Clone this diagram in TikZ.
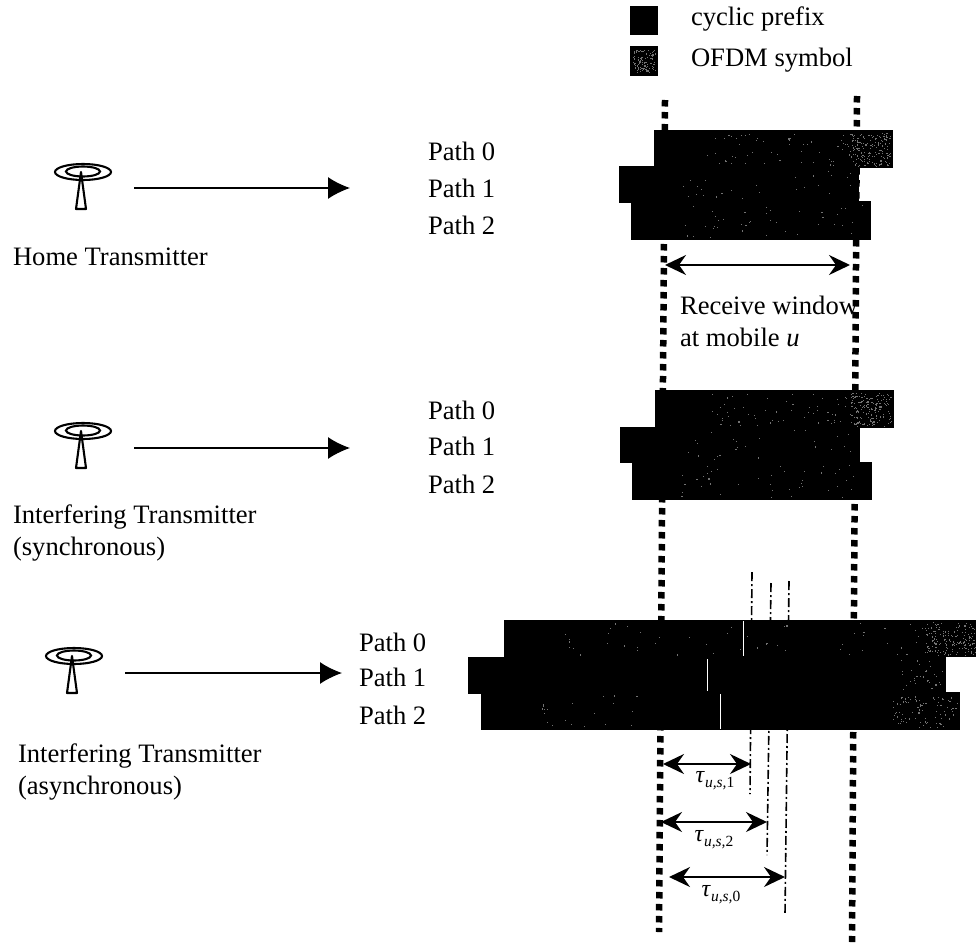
\documentclass[tikz,border=0pt]{standalone}
\usepackage{fontspec}
\setmainfont{Liberation Serif}
\usetikzlibrary{arrows.meta}
\newcommand{\specks}[6][black!55]{%
  \foreach \i in {1,...,#6}{%
    \pgfmathsetmacro{\sx}{#2+rnd*(#4-#2)}%
    \pgfmathsetmacro{\sy}{#3+rnd*(#5-#3)}%
    \fill[#1] (\sx,\sy) rectangle ++(1.1,1.1);
  }}
\newcommand{\antenna}[2]{%
  \draw[antline] (#1+2,#2) ellipse [x radius=28,y radius=8];
  \draw[antline] (#1+2,#2-0.5) ellipse [x radius=17,y radius=5];
  \draw[antline,fill=white,line join=round] (#1,#2) -- (#1-5,#2+37) -- (#1+5,#2+37) -- cycle;
}
\newcommand{\taulbl}[1]{\textit{τ}\raisebox{-5pt}{\fontsize{15.5}{18}\selectfont\textit{u,s,}#1}}
\tikzset{
  x=1pt,y=-1pt,
  every node/.style={font=\fontsize{26.6}{32}\selectfont,inner sep=0pt,outer sep=0pt},
  lbl/.style={anchor=west,align=left},
  antline/.style={line width=2.1pt,black},
  bar/.style={fill=black,draw=none},
  window/.style={line width=6.5pt,dash pattern=on 6.5pt off 5.5pt,black},
  delay/.style={line width=1.6pt,dash pattern=on 9pt off 3pt on 2pt off 3pt,black},
  txarrow/.style={line width=1.4pt,-{Latex[length=22pt,width=22pt]}},
  span/.style={line width=1.8pt,{Stealth[length=21pt,width=20pt,inset=7pt]}-{Stealth[length=21pt,width=20pt,inset=7pt]}},
  taulabel/.style={font=\fontsize{24}{26}\selectfont}
}
\begin{document}
\begin{tikzpicture}
\useasboundingbox (0,0) rectangle (976,942);
\pgfmathsetseed{4242}
% legend
\node[bar,minimum width=28pt,minimum height=29pt] (lcp) at (644,20.5) {};
\node[bar,minimum width=28pt,minimum height=29pt] (lsym) at (644,61) {};
\specks{633}{50}{655}{72}{110}
\node[lbl] (tcp) at (691,19) {cyclic prefix};
\node[lbl] (tsym) at (691,60) {OFDM symbol};
% window boundaries
\coordinate (wl1) at (665,100);
\coordinate (wl2) at (659,932);
\coordinate (wr1) at (857,96);
\coordinate (wr2) at (852,942);
\draw[window] (wl1) -- (wl2);
\draw[window] (wr1) -- (wr2);
% delay markers
\coordinate (d1a) at (752,572); \coordinate (d1b) at (750,794);
\coordinate (d2a) at (771,583); \coordinate (d2b) at (767,855);
\coordinate (d3a) at (789,581); \coordinate (d3b) at (785,914);
\draw[delay] (d1a) -- (d1b);
\draw[delay] (d2a) -- (d2b);
\draw[delay] (d3a) -- (d3b);
% home block
\fill[bar] (654,130) rectangle (893,168);
\fill[bar] (619,166) rectangle (859,203);
\fill[bar] (631,201) rectangle (871,240);
\specks{850}{133}{890}{166}{170}
\specks{705}{133}{850}{165}{55}
\specks{680}{170}{856}{200}{25}
\specks{680}{205}{868}{237}{40}
% synchronous block
\fill[bar] (655,390) rectangle (894,428);
\fill[bar] (620,427) rectangle (860,463);
\fill[bar] (632,462) rectangle (872,500);
\specks{850}{393}{891}{426}{170}
\specks{705}{393}{850}{425}{55}
\specks{680}{430}{857}{460}{25}
\specks{680}{465}{869}{497}{40}
% asynchronous block
\fill[bar] (504,620) rectangle (976,657);
\fill[bar] (468,657) rectangle (946,694);
\fill[bar] (481,692) rectangle (960,730);
\specks{925}{622}{976}{655}{170}
\specks{560}{622}{925}{655}{50}
\specks{900}{660}{943}{690}{30}
\specks{890}{695}{957}{727}{90}
\specks{540}{695}{640}{727}{20}
\draw[white,line width=1pt] (743,621) -- (743,656);
\draw[white,line width=1pt] (707,659) -- (707,691);
\draw[white,line width=1pt] (720,694) -- (720,729);
% transmitters
\antenna{81}{172}
\antenna{81}{431}
\antenna{72}{656}
\coordinate (a1s) at (134,188); \coordinate (a1e) at (350,188);
\coordinate (a2s) at (134,448); \coordinate (a2e) at (350,448);
\coordinate (a3s) at (125,673); \coordinate (a3e) at (342,673);
\draw[txarrow] (a1s) -- (a1e);
\draw[txarrow] (a2s) -- (a2e);
\draw[txarrow] (a3s) -- (a3e);
\node[lbl] (home) at (13,257) {Home Transmitter};
\node[lbl] (sync) at (13,533) {Interfering Transmitter\\(synchronous)};
\node[lbl] (async) at (18,772) {Interfering Transmitter\\(asynchronous)};
% path labels
\node[lbl] (p10) at (428,151) {Path 0};
\node[lbl] (p11) at (428,188) {Path 1};
\node[lbl] (p12) at (428,225) {Path 2};
\node[lbl] (p20) at (428,410) {Path 0};
\node[lbl] (p21) at (428,446) {Path 1};
\node[lbl] (p22) at (428,484) {Path 2};
\node[lbl] (p30) at (359,642) {Path 0};
\node[lbl] (p31) at (359,677) {Path 1};
\node[lbl] (p32) at (359,715) {Path 2};
% receive window
\coordinate (rw1) at (665,265); \coordinate (rw2) at (850,265);
\draw[span] (rw1) -- (rw2);
\node[lbl] (rw) at (680,321) {Receive window\\at mobile \textit{u}};
% delays
\coordinate (t1a) at (663,764); \coordinate (t1b) at (751,764);
\coordinate (t2a) at (661,822); \coordinate (t2b) at (767,822);
\coordinate (t3a) at (669,877); \coordinate (t3b) at (785,877);
\draw[span] (t1a) -- (t1b);
\draw[span] (t2a) -- (t2b);
\draw[span] (t3a) -- (t3b);
\node[taulabel] (t1) at (715,781) {\taulbl{1}};
\node[taulabel] (t2) at (714,840) {\taulbl{2}};
\node[taulabel] (t3) at (721,895) {\taulbl{0}};
\end{tikzpicture}
\end{document}
